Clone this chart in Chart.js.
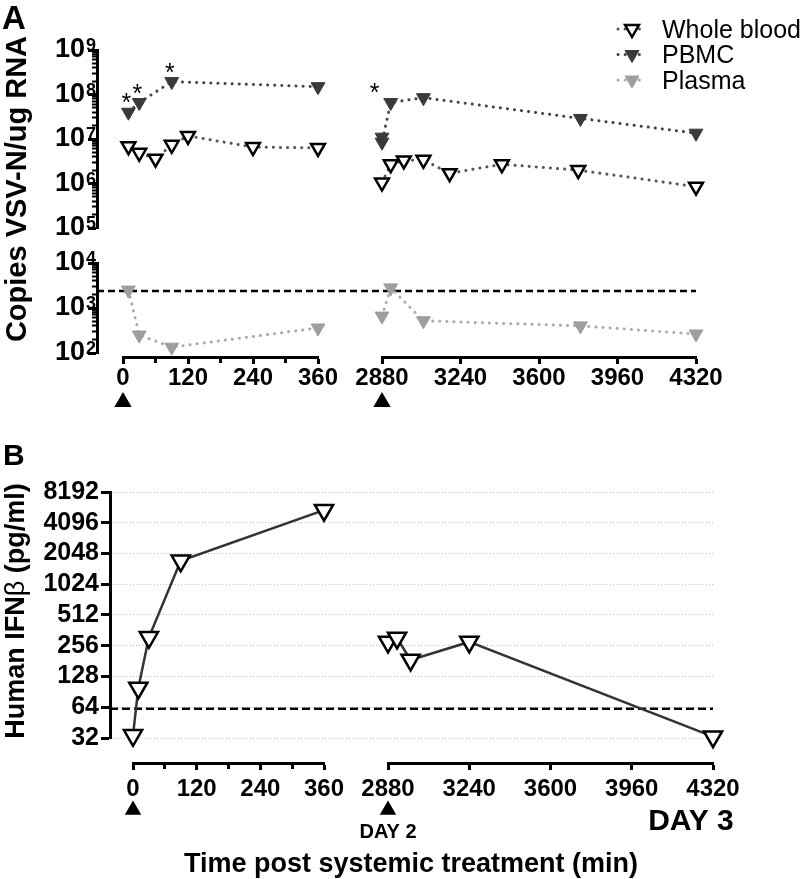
<!DOCTYPE html>
<html>
<head>
<meta charset="utf-8">
<script src="https://cdn.jsdelivr.net/npm/chart.js@4.4.1/dist/chart.umd.min.js"></script>
<style>
  html, body { margin: 0; padding: 0; background: #fff; }
  #fig { position: relative; width: 800px; height: 879px; overflow: hidden; font-family: "Liberation Sans", Arial, sans-serif; color: #000; }
  #fig canvas { position: absolute; left: 0; }
  .txt { position: absolute; font-weight: bold; white-space: nowrap; line-height: 1; }
  .rot { transform: translate(-50%, -50%) rotate(-90deg); }
</style>
</head>
<body>
<div id="fig">
  <canvas id="cv-a" width="800" height="420" style="top:0"></canvas>
  <canvas id="cv-b" width="800" height="459" style="top:420px"></canvas>
  <div class="txt" style="left:2px;top:1px;font-size:33px">A</div>
  <div class="txt" style="left:3px;top:440px;font-size:30px">B</div>
  <div class="txt rot" style="left:16px;top:189px;font-size:29px">Copies VSV-N/ug RNA</div>
  <div class="txt rot" style="left:15px;top:611px;font-size:27px">Human IFN<span style="font-weight:normal">β</span> (pg/ml)</div>
  <div class="txt" style="left:411px;top:863px;font-size:27px;transform:translate(-50%,-50%)">Time post systemic treatment (min)</div>
</div>
<script>
// ---- panel A: copies VSV-N / ug RNA ----
const seriesNames = ['Whole blood', 'PBMC', 'Plasma'];

const wbTimeL    = [10, 30, 60, 90, 120, 240, 360];
const wbCopiesL  = [6.9e6, 4.9e6, 3.6e6, 7.4e6, 1.17e7, 6.6e6, 6.3e6];
const wbTimeR    = [2880, 2920, 2980, 3070, 3190, 3430, 3780, 4320];
const wbCopiesR  = [1.05e6, 2.7e6, 3.3e6, 3.4e6, 1.7e6, 2.7e6, 2.0e6, 8.5e5];

const pbmcTimeL   = [10, 30, 90, 360];
const pbmcCopiesL = [4.0e7, 6.6e7, 1.95e8, 1.5e8];
const pbmcTimeR   = [2880, 2880, 2920, 3070, 3790, 4320];
const pbmcCopiesR = [1.1e7, 8.5e6, 6.6e7, 8.5e7, 2.9e7, 1.35e7];

const plasmaTimeL   = [10, 30, 90, 360];
const plasmaCopiesL = [2500, 250, 135, 360];
const plasmaTimeR   = [2880, 2920, 3070, 3790, 4320];
const plasmaCopiesR = [660, 2800, 520, 400, 265];
const plasmaLOD = 2400;

// PBMC time points flagged with *
const pbmcStarL = [10, 30, 90];
const pbmcStarR = [2920];

// ---- panel B: human IFN-beta (pg/ml) ----
const ifnTimeL = [0, 10, 30, 90, 360];
const ifnPgL   = [34, 99, 310, 1735, 5440];
const ifnTimeR = [2880, 2920, 2980, 3240, 4320];
const ifnPgR   = [279, 305, 186, 279, 33];
const ifnLOD = 62;

// axis ticks
const copiesTopRange = [1e5, 1e9];
const copiesBotRange = [1e2, 1e4];
const ifnTicks   = [32, 64, 128, 256, 512, 1024, 2048, 4096, 8192];
const timeRangeL = [0, 360];
const timeRangeR = [2880, 4320];
const timeDays   = [{ t: 2880, label: 'DAY 2' }, { t: 4320, label: 'DAY 3' }];
const treatTimes = [0, 2880];

const FONT = '"Liberation Sans", Arial, sans-serif';
Chart.defaults.font.family = FONT;
Chart.defaults.color = '#000';

const isDecade = v => Math.abs(Math.log10(v) - Math.round(Math.log10(v))) < 1e-9;
const pts = (xs, ys) => xs.map((x, i) => ({ x, y: ys[i] }));

function decadeTicks(lo, hi) {
  const out = [];
  for (let e = Math.round(Math.log10(lo)); e <= Math.round(Math.log10(hi)); e++) {
    const b = Math.pow(10, e);
    out.push(b);
    if (b < hi) for (let k = 2; k <= 9; k++) out.push(k * b);
  }
  return out;
}

const STYLE = {
  'Whole blood': { line: '#555', dash: [0.1, 7], lw: 3, r: 8, fill: '#fff', edge: '#000', bw: 2.5 },
  'PBMC':        { line: '#444', dash: [0.1, 7], lw: 3, r: 8, fill: '#3a3a3a', edge: '#3a3a3a', bw: 1 },
  'Plasma':      { line: '#aaa', dash: [0.1, 7], lw: 3, r: 8, fill: '#9e9e9e', edge: '#9e9e9e', bw: 1 },
  'IFN':         { line: '#333', dash: [], lw: 2.5, r: 10.5, fill: '#fff', edge: '#000', bw: 2.5 },
};

function series(name, data, xID, yID) {
  const s = STYLE[name];
  return {
    label: name, data, xAxisID: xID, yAxisID: yID, clip: false, showLine: true, fill: false, tension: 0,
    borderColor: s.line, borderWidth: s.lw, borderDash: s.dash, borderCapStyle: 'round',
    pointStyle: 'triangle', pointRotation: 180, pointRadius: s.r, pointHoverRadius: s.r,
    pointBackgroundColor: s.fill, pointBorderColor: s.edge, pointBorderWidth: s.bw,
  };
}

function lodLine(value, xID, yID, dash) {
  return {
    data: [{ x: 0, y: value }, { x: 1, y: value }], xAxisID: xID, yAxisID: yID, clip: false,
    borderColor: '#000', borderWidth: 2.5, borderDash: dash, pointRadius: 0, fill: false,
  };
}

function tri(ctx, x, y, r, fill, edge, bw, up) {
  const d = up ? -1 : 1;
  ctx.beginPath();
  ctx.moveTo(x, y + d * r);
  ctx.lineTo(x - 0.866 * r, y - d * 0.5 * r);
  ctx.lineTo(x + 0.866 * r, y - d * 0.5 * r);
  ctx.closePath();
  ctx.fillStyle = fill; ctx.fill();
  if (bw) { ctx.lineWidth = bw; ctx.strokeStyle = edge; ctx.stroke(); }
}

// fixed geometry of the axes (px)
const GA = { left: 97, top: 50, right: 104, xH: 63 };
const GB = { left: 110, top: 72, right: 87, xH: 116 };

const spacer = (axis, position, stack, w, fit) => ({ type: 'linear', axis, position, stack, stackWeight: w, display: false, afterFit: fit });
const fitW = w => s => { s.width = w; };
const fitH = h => s => { s.height = h; };

function logAxis(range, w) {
  return {
    type: 'logarithmic', axis: 'y', position: 'left', stack: 'ya', stackWeight: w, min: range[0], max: range[1],
    afterBuildTicks: s => { s.ticks = decadeTicks(range[0], range[1]).map(v => ({ value: v })); },
    afterFit: fitW(GA.left),
    border: { display: true, color: '#000', width: 3 },
    grid: {
      drawOnChartArea: false, tickLength: 9, tickColor: '#000',
      tickWidth: c => isDecade(c.tick.value) ? 3 : 2,
      tickBorderDash: c => isDecade(c.tick.value) ? [] : [0, 4, 5, 100],
    },
    ticks: {
      autoSkip: false, padding: 3, font: { size: 27, weight: 'bold' },
      callback: v => isDecade(v) ? '10' : '',
    },
  };
}

function timeAxis(range, step, every, w, h, size, pad, stack) {
  return {
    type: 'linear', axis: 'x', position: 'bottom', stack, stackWeight: w, min: range[0], max: range[1],
    afterFit: fitH(h),
    border: { display: true, color: '#000', width: 3 },
    grid: {
      drawOnChartArea: false, tickLength: 7, tickColor: '#000', tickWidth: 3,
      tickBorderDash: c => c.tick.value % every === 0 ? [] : [4, 100],
    },
    ticks: {
      stepSize: step, autoSkip: false, maxRotation: 0, padding: pad, font: { size, weight: 'bold' },
      callback: v => v % every === 0 ? String(v) : '',
    },
  };
}

// exponents of the 10^n labels, set as superscripts
function drawExponents(ctx, scale) {
  ctx.font = 'bold 18px ' + FONT;
  ctx.textAlign = 'left'; ctx.textBaseline = 'alphabetic';
  scale.ticks.forEach(t => {
    if (!isDecade(t.value)) return;
    ctx.fillText(String(Math.round(Math.log10(t.value))), scale.right - 11, scale.getPixelForValue(t.value) + 1);
  });
}

// ---------------- panel A ----------------
const extrasA = {
  id: 'extrasA',
  afterDraw(chart) {
    const { ctx, scales } = chart;
    const { xL, xR, yT, yB } = scales;
    ctx.save();
    ctx.fillStyle = '#000';
    drawExponents(ctx, yT);
    drawExponents(ctx, yB);
    // asterisks over PBMC
    ctx.font = '25px ' + FONT;
    ctx.textAlign = 'center'; ctx.textBaseline = 'alphabetic';
    pbmcStarL.forEach(t => {
      const v = pbmcCopiesL[pbmcTimeL.indexOf(t)];
      ctx.fillText('*', xL.getPixelForValue(t) - 2, yT.getPixelForValue(v) - 1);
    });
    pbmcStarR.forEach(t => {
      const v = pbmcCopiesR[pbmcTimeR.indexOf(t)];
      ctx.fillText('*', xR.getPixelForValue(t) - 16, yT.getPixelForValue(v) - 2);
    });
    // treatment markers
    tri(ctx, xL.getPixelForValue(treatTimes[0]), xL.top + 45, 10, '#000', null, 0, true);
    tri(ctx, xR.getPixelForValue(treatTimes[1]), xR.top + 45, 10, '#000', null, 0, true);
    // legend
    ctx.font = '25px ' + FONT;
    ctx.textAlign = 'left'; ctx.textBaseline = 'middle';
    seriesNames.forEach((name, i) => {
      const s = STYLE[name], y = 31 + i * 25.5;
      ctx.save();
      ctx.strokeStyle = s.line; ctx.lineWidth = s.lw; ctx.lineCap = 'round'; ctx.setLineDash(s.dash);
      ctx.beginPath(); ctx.moveTo(618, y - 2); ctx.lineTo(646, y - 2); ctx.stroke();
      ctx.restore();
      tri(ctx, 632, y - 2, s.r, s.fill, s.edge, s.bw, false);
      ctx.fillStyle = '#000';
      ctx.fillText(name, 662, y);
    });
    ctx.restore();
  }
};

new Chart(document.getElementById('cv-a'), {
  type: 'line',
  data: {
    datasets: [
      series('PBMC', pts(pbmcTimeL, pbmcCopiesL), 'xL', 'yT'),
      series('PBMC', pts(pbmcTimeR, pbmcCopiesR), 'xR', 'yT'),
      series('Whole blood', pts(wbTimeL, wbCopiesL), 'xL', 'yT'),
      series('Whole blood', pts(wbTimeR, wbCopiesR), 'xR', 'yT'),
      series('Plasma', pts(plasmaTimeL, plasmaCopiesL), 'xL', 'yB'),
      series('Plasma', pts(plasmaTimeR, plasmaCopiesR), 'xR', 'yB'),
      lodLine(plasmaLOD, 'xAll', 'yB', [7, 4]),
    ]
  },
  options: {
    responsive: false, animation: false, events: [], devicePixelRatio: 1,
    layout: { padding: { left: 0, top: GA.top, right: GA.right, bottom: 0 } },
    plugins: { legend: { display: false }, tooltip: { enabled: false } },
    scales: {
      // left-hand stacks are laid out bottom-up
      yPad: spacer('y', 'left', 'ya', 4, fitW(GA.left)),
      yB:   logAxis(copiesBotRange, 90),
      yGap: spacer('y', 'left', 'ya', 35, fitW(GA.left)),
      yT:   logAxis(copiesTopRange, 178),
      pad0: spacer('x', 'bottom', 'xa', 26, fitH(GA.xH)),
      xL:   timeAxis(timeRangeL, 60, 120, 195, GA.xH, 24, 0, 'xa'),
      xGap: spacer('x', 'bottom', 'xa', 64, fitH(GA.xH)),
      xR:   timeAxis(timeRangeR, 360, 360, 314, GA.xH, 24, 0, 'xa'),
      xAll: { type: 'linear', axis: 'x', position: 'bottom', display: false, min: 0, max: 1 },
    }
  },
  plugins: [extrasA]
});

// ---------------- panel B ----------------
const extrasB = {
  id: 'extrasB',
  afterDraw(chart) {
    const { ctx, scales: { xL, xR } } = chart;
    ctx.save();
    tri(ctx, xL.getPixelForValue(treatTimes[0]), xL.top + 47, 9.5, '#000', null, 0, true);
    tri(ctx, xR.getPixelForValue(treatTimes[1]), xR.top + 47, 9.5, '#000', null, 0, true);
    ctx.fillStyle = '#000'; ctx.textAlign = 'center'; ctx.textBaseline = 'middle';
    ctx.font = 'bold 20px ' + FONT;
    ctx.fillText(timeDays[0].label, xR.getPixelForValue(timeDays[0].t), xR.top + 69);
    ctx.font = 'bold 30px ' + FONT;
    ctx.fillText(timeDays[1].label, xR.getPixelForValue(timeDays[1].t) - 22, xR.top + 59);
    ctx.restore();
  }
};

new Chart(document.getElementById('cv-b'), {
  type: 'line',
  data: {
    datasets: [
      series('IFN', pts(ifnTimeL, ifnPgL), 'xL', 'yI'),
      series('IFN', pts(ifnTimeR, ifnPgR), 'xR', 'yI'),
      lodLine(ifnLOD, 'xAll', 'yI', [8, 4]),
    ]
  },
  options: {
    responsive: false, animation: false, events: [], devicePixelRatio: 1,
    layout: { padding: { left: 0, top: GB.top, right: GB.right, bottom: 0 } },
    plugins: { legend: { display: false }, tooltip: { enabled: false } },
    scales: {
      yPad: spacer('y', 'left', 'yb', 25, fitW(GB.left)),
      yI: {
        type: 'logarithmic', axis: 'y', position: 'left', stack: 'yb', stackWeight: 246,
        min: ifnTicks[0], max: ifnTicks[ifnTicks.length - 1],
        afterBuildTicks: s => { s.ticks = ifnTicks.map(v => ({ value: v })); },
        afterFit: fitW(GB.left),
        border: { display: true, color: '#000', width: 3, dash: [1, 2] },
        grid: { drawOnChartArea: true, color: '#bdbdbd', lineWidth: 1, tickLength: 9, tickColor: '#000', tickWidth: 3 },
        ticks: { autoSkip: false, padding: 2, font: { size: 25, weight: 'bold' }, callback: v => String(v) },
      },
      pad0: spacer('x', 'bottom', 'xb', 23, fitH(GB.xH)),
      xL:   timeAxis(timeRangeL, 60, 120, 191, GB.xH, 24, 5, 'xb'),
      xGap: spacer('x', 'bottom', 'xb', 64, fitH(GB.xH)),
      xR:   timeAxis(timeRangeR, 360, 360, 325, GB.xH, 24, 5, 'xb'),
      xAll: { type: 'linear', axis: 'x', position: 'bottom', display: false, min: 0, max: 1 },
    }
  },
  plugins: [extrasB]
});
</script>
</body>
</html>
